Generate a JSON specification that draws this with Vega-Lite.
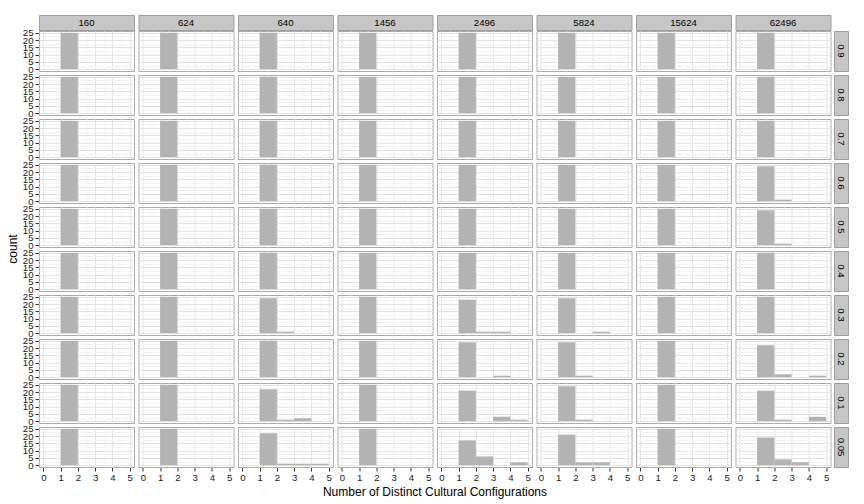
{
  "$schema": "https://vega.github.io/schema/vega-lite/v6.json",
  "background": "white",
  "padding": {"left": 6, "top": 14, "right": 5, "bottom": 5},
  "config": {"font": "Liberation Sans"},
  "datasets": {
    "bars": [
      {"N":160,"p":0.9,"a":1,"b":2,"c":25},{"N":624,"p":0.9,"a":1,"b":2,"c":25},{"N":640,"p":0.9,"a":1,"b":2,"c":25},{"N":1456,"p":0.9,"a":1,"b":2,"c":25},{"N":2496,"p":0.9,"a":1,"b":2,"c":25},{"N":5824,"p":0.9,"a":1,"b":2,"c":25},{"N":15624,"p":0.9,"a":1,"b":2,"c":25},{"N":62496,"p":0.9,"a":1,"b":2,"c":25},
      {"N":160,"p":0.8,"a":1,"b":2,"c":25},{"N":624,"p":0.8,"a":1,"b":2,"c":25},{"N":640,"p":0.8,"a":1,"b":2,"c":25},{"N":1456,"p":0.8,"a":1,"b":2,"c":25},{"N":2496,"p":0.8,"a":1,"b":2,"c":25},{"N":5824,"p":0.8,"a":1,"b":2,"c":25},{"N":15624,"p":0.8,"a":1,"b":2,"c":25},{"N":62496,"p":0.8,"a":1,"b":2,"c":25},
      {"N":160,"p":0.7,"a":1,"b":2,"c":25},{"N":624,"p":0.7,"a":1,"b":2,"c":25},{"N":640,"p":0.7,"a":1,"b":2,"c":25},{"N":1456,"p":0.7,"a":1,"b":2,"c":25},{"N":2496,"p":0.7,"a":1,"b":2,"c":25},{"N":5824,"p":0.7,"a":1,"b":2,"c":25},{"N":15624,"p":0.7,"a":1,"b":2,"c":25},{"N":62496,"p":0.7,"a":1,"b":2,"c":25},
      {"N":160,"p":0.6,"a":1,"b":2,"c":25},{"N":624,"p":0.6,"a":1,"b":2,"c":25},{"N":640,"p":0.6,"a":1,"b":2,"c":25},{"N":1456,"p":0.6,"a":1,"b":2,"c":25},{"N":2496,"p":0.6,"a":1,"b":2,"c":25},{"N":5824,"p":0.6,"a":1,"b":2,"c":25},{"N":15624,"p":0.6,"a":1,"b":2,"c":25},{"N":62496,"p":0.6,"a":1,"b":2,"c":24},
      {"N":160,"p":0.5,"a":1,"b":2,"c":25},{"N":624,"p":0.5,"a":1,"b":2,"c":25},{"N":640,"p":0.5,"a":1,"b":2,"c":25},{"N":1456,"p":0.5,"a":1,"b":2,"c":25},{"N":2496,"p":0.5,"a":1,"b":2,"c":25},{"N":5824,"p":0.5,"a":1,"b":2,"c":25},{"N":15624,"p":0.5,"a":1,"b":2,"c":25},{"N":62496,"p":0.5,"a":1,"b":2,"c":24},
      {"N":160,"p":0.4,"a":1,"b":2,"c":25},{"N":624,"p":0.4,"a":1,"b":2,"c":25},{"N":640,"p":0.4,"a":1,"b":2,"c":25},{"N":1456,"p":0.4,"a":1,"b":2,"c":25},{"N":2496,"p":0.4,"a":1,"b":2,"c":25},{"N":5824,"p":0.4,"a":1,"b":2,"c":25},{"N":15624,"p":0.4,"a":1,"b":2,"c":25},{"N":62496,"p":0.4,"a":1,"b":2,"c":25},
      {"N":160,"p":0.3,"a":1,"b":2,"c":25},{"N":624,"p":0.3,"a":1,"b":2,"c":25},{"N":640,"p":0.3,"a":1,"b":2,"c":24},{"N":1456,"p":0.3,"a":1,"b":2,"c":25},{"N":2496,"p":0.3,"a":1,"b":2,"c":23},{"N":5824,"p":0.3,"a":1,"b":2,"c":24},{"N":15624,"p":0.3,"a":1,"b":2,"c":25},{"N":62496,"p":0.3,"a":1,"b":2,"c":25},
      {"N":160,"p":0.2,"a":1,"b":2,"c":25},{"N":624,"p":0.2,"a":1,"b":2,"c":25},{"N":640,"p":0.2,"a":1,"b":2,"c":25},{"N":1456,"p":0.2,"a":1,"b":2,"c":25},{"N":2496,"p":0.2,"a":1,"b":2,"c":24},{"N":5824,"p":0.2,"a":1,"b":2,"c":24},{"N":15624,"p":0.2,"a":1,"b":2,"c":25},{"N":62496,"p":0.2,"a":1,"b":2,"c":22},
      {"N":160,"p":0.1,"a":1,"b":2,"c":25},{"N":624,"p":0.1,"a":1,"b":2,"c":25},{"N":640,"p":0.1,"a":1,"b":2,"c":22},{"N":1456,"p":0.1,"a":1,"b":2,"c":25},{"N":2496,"p":0.1,"a":1,"b":2,"c":21},{"N":5824,"p":0.1,"a":1,"b":2,"c":24},{"N":15624,"p":0.1,"a":1,"b":2,"c":25},{"N":62496,"p":0.1,"a":1,"b":2,"c":21},
      {"N":160,"p":0.05,"a":1,"b":2,"c":25},{"N":624,"p":0.05,"a":1,"b":2,"c":25},{"N":640,"p":0.05,"a":1,"b":2,"c":22},{"N":1456,"p":0.05,"a":1,"b":2,"c":25},{"N":2496,"p":0.05,"a":1,"b":2,"c":17},{"N":5824,"p":0.05,"a":1,"b":2,"c":21},{"N":15624,"p":0.05,"a":1,"b":2,"c":25},{"N":62496,"p":0.05,"a":1,"b":2,"c":19},
      {"N":62496,"p":0.6,"a":2,"b":3,"c":1},
      {"N":62496,"p":0.5,"a":2,"b":3,"c":1},
      {"N":640,"p":0.3,"a":2,"b":3,"c":1},
      {"N":2496,"p":0.3,"a":2,"b":3,"c":1},{"N":2496,"p":0.3,"a":3,"b":4,"c":1},
      {"N":5824,"p":0.3,"a":3,"b":4,"c":1},
      {"N":2496,"p":0.2,"a":3,"b":4,"c":1},
      {"N":5824,"p":0.2,"a":2,"b":3,"c":1},
      {"N":62496,"p":0.2,"a":2,"b":3,"c":2},{"N":62496,"p":0.2,"a":4,"b":5,"c":1},
      {"N":640,"p":0.1,"a":2,"b":3,"c":1},{"N":640,"p":0.1,"a":3,"b":4,"c":2},
      {"N":2496,"p":0.1,"a":3,"b":4,"c":3},{"N":2496,"p":0.1,"a":4,"b":5,"c":1},
      {"N":5824,"p":0.1,"a":2,"b":3,"c":1},
      {"N":62496,"p":0.1,"a":2,"b":3,"c":1},{"N":62496,"p":0.1,"a":4,"b":5,"c":3},
      {"N":640,"p":0.05,"a":2,"b":3,"c":1},{"N":640,"p":0.05,"a":3,"b":4,"c":1},{"N":640,"p":0.05,"a":4,"b":5,"c":1},
      {"N":2496,"p":0.05,"a":2,"b":3,"c":6},{"N":2496,"p":0.05,"a":4,"b":5,"c":2},
      {"N":5824,"p":0.05,"a":2,"b":3,"c":2},{"N":5824,"p":0.05,"a":3,"b":4,"c":2},
      {"N":62496,"p":0.05,"a":2,"b":3,"c":4},{"N":62496,"p":0.05,"a":3,"b":4,"c":2}
    ],
    "cols": [
      {"N":160,"one":1},{"N":624,"one":1},{"N":640,"one":1},{"N":1456,"one":1},{"N":2496,"one":1},{"N":5824,"one":1},{"N":15624,"one":1},{"N":62496,"one":1}
    ],
    "rows": [
      {"p":0.9},{"p":0.8},{"p":0.7},{"p":0.6},{"p":0.5},{"p":0.4},{"p":0.3},{"p":0.2},{"p":0.1},{"p":0.05}
    ]
  },
  "spacing": -6,
  "vconcat": [
    {
      "data": {"name": "cols"},
      "bounds": "flush",
      "facet": {
        "row": {"field": "one", "type": "nominal", "header": {"title": "c", "labels": false, "labelPadding": 0, "titleFont": "Liberation Sans", "titleFontSize": 12, "titleFontWeight": "normal", "titleColor": "transparent", "titlePadding": -8}},
        "column": {"field": "N", "type": "ordinal", "sort": "ascending", "header": null}
      },
      "spacing": {"row": 4, "column": 4.5},
      "spec": {
        "width": 95,
        "height": 15,
        "view": {"fill": "#c6c6c6", "stroke": "#9e9e9e", "strokeWidth": 1},
        "mark": {"type": "text", "font": "Liberation Sans", "fontSize": 9.6, "color": "black", "baseline": "middle"},
        "encoding": {
          "text": {"field": "N", "type": "nominal"},
          "y": {"datum": 12.5, "type": "quantitative", "scale": {"domain": [0, 25]},
            "axis": {"values": [12.5], "labelExpr": "'25'", "labelColor": "transparent", "tickColor": "transparent", "tickSize": 4, "labelPadding": 2, "labelFontSize": 9.6, "labelFont": "Liberation Sans", "domain": false, "grid": false, "title": null}}
        }
      }
    },
    {
      "spacing": 2,
      "hconcat": [
        {
          "data": {"name": "bars"},
          "bounds": "flush",
          "facet": {
            "row": {"field": "p", "type": "ordinal", "sort": "descending", "header": {"title": "count", "labels": false, "labelPadding": 0, "titleFont": "Liberation Sans", "titleFontSize": 12, "titleFontWeight": "normal", "titleColor": "black", "titlePadding": -8}},
            "column": {"field": "N", "type": "ordinal", "sort": "ascending", "header": {"title": "Number of Distinct Cultural Configurations", "labels": false, "labelPadding": 0, "labelOrient": "bottom", "titleOrient": "bottom", "titleFont": "Liberation Sans", "titleFontSize": 12, "titleFontWeight": "normal", "titleColor": "black", "titlePadding": -5}}
          },
          "spacing": {"row": 4, "column": 4.5},
          "spec": {
            "width": 95,
            "height": 40,
            "view": {"fill": "white", "stroke": "#a8a8a8", "strokeWidth": 1},
            "mark": {"type": "rect", "color": "#b3b3b3"},
            "encoding": {
              "x": {"field": "a", "type": "quantitative", "scale": {"domain": [-0.25, 5.25], "nice": false, "zero": false},
                "axis": {"values": [0, 0.5, 1, 1.5, 2, 2.5, 3, 3.5, 4, 4.5, 5], "labelExpr": "datum.value % 1 === 0 ? '' + datum.value : ''", "title": null, "grid": true,
                  "gridColor": {"condition": {"test": "datum.value % 1 !== 0", "value": "#f3f3f3"}, "value": "#e4e4e4"},
                  "tickColor": {"condition": {"test": "datum.value % 1 !== 0", "value": "transparent"}, "value": "#333333"},
                  "domain": false, "tickSize": 4, "labelFont": "Liberation Sans", "labelFontSize": 9.6, "labelColor": "#1a1a1a", "labelPadding": 1, "labelOverlap": false, "labelFlush": false}},
              "x2": {"field": "b"},
              "y": {"field": "c", "type": "quantitative", "scale": {"domain": [-1.25, 26.25], "nice": false, "zero": false},
                "axis": {"values": [0, 2.5, 5, 7.5, 10, 12.5, 15, 17.5, 20, 22.5, 25], "labelExpr": "datum.value % 5 === 0 ? '' + datum.value : ''", "title": null, "grid": true,
                  "gridColor": {"condition": {"test": "datum.value % 5 !== 0", "value": "#f3f3f3"}, "value": "#e4e4e4"},
                  "tickColor": {"condition": {"test": "datum.value % 5 !== 0", "value": "transparent"}, "value": "#333333"},
                  "domain": false, "tickSize": 4, "labelFont": "Liberation Sans", "labelFontSize": 9.6, "labelColor": "#1a1a1a", "labelPadding": 2, "labelOverlap": false, "labelFlush": false}},
              "y2": {"datum": 0}
            }
          }
        },
        {
          "data": {"name": "rows"},
          "bounds": "flush",
          "facet": {"row": {"field": "p", "type": "ordinal", "sort": "descending", "header": null}},
          "spacing": {"row": 4},
          "spec": {
            "width": 14,
            "height": 40,
            "view": {"fill": "#c6c6c6", "stroke": "#9e9e9e", "strokeWidth": 1},
            "mark": {"type": "text", "font": "Liberation Sans", "fontSize": 9.6, "color": "black", "angle": 90, "baseline": "middle", "align": "center"},
            "encoding": {
              "text": {"field": "p", "type": "nominal"},
              "y": {"datum": 12.5, "type": "quantitative", "scale": {"domain": [-1.25, 26.25], "nice": false, "zero": false},
                "axis": {"orient": "right", "values": [25], "labelExpr": "'2'", "labelColor": "transparent", "tickColor": "transparent", "tickSize": 0, "labelPadding": 0, "labelFontSize": 9.6, "labelFont": "Liberation Sans", "domain": false, "grid": false, "title": null, "labelOverlap": false}}
            }
          }
        }
      ]
    }
  ]
}
